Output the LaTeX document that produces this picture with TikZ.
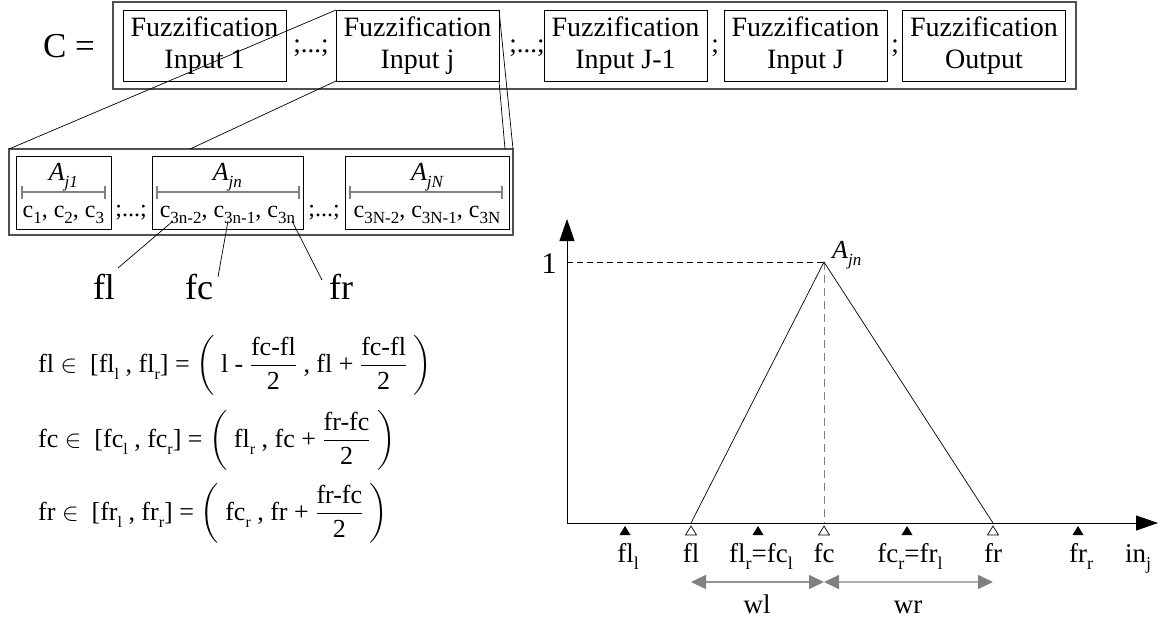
\documentclass[tikz,border=0pt]{standalone}
\usepackage{amsmath}
\usepackage{fontspec}
\setmainfont{Liberation Serif}
\usetikzlibrary{arrows.meta}
\newcommand\sbs[2][17]{\raisebox{-0.28em}{\fontsize{#1}{#1}\selectfont #2}}
\definecolor{midgray}{RGB}{128,128,128}
\definecolor{lightgray2}{RGB}{175,175,175}
\definecolor{boxgray}{RGB}{80,80,80}
\tikzset{
  topbox/.style={draw, line width=0.7pt, minimum width=163, minimum height=71, align=center, inner sep=0, outer sep=0,
    font=\fontsize{28}{32}\selectfont},
  outerbox/.style={draw=boxgray, line width=1.3pt, inner sep=0, outer sep=0},
  abox/.style={draw, line width=0.7pt, minimum height=73, inner sep=0, outer sep=0},
  sep/.style={font=\fontsize{27}{31}\selectfont, inner sep=0},
  csep/.style={font=\fontsize{24}{28}\selectfont, inner sep=0},
  alabel/.style={font=\fontsize{26}{28}\selectfont\itshape, inner sep=0, anchor=base},
  ctext/.style={font=\fontsize{24}{28}\selectfont, inner sep=0, anchor=base},
  bar/.style={midgray, line width=2pt, {Bar[width=13]}-{Bar[width=13]}},
  thin/.style={line width=0.7pt},
  big/.style={font=\fontsize{36}{40}\selectfont, inner sep=0, anchor=base},
  formula/.style={font=\fontsize{26}{30}\selectfont, inner sep=0, anchor=base west},
  axlabel/.style={font=\fontsize{27}{30}\selectfont, inner sep=0, anchor=base},
  axis/.style={line width=0.9pt, -{Triangle[length=22,width=15]}},
  openmk/.style={draw=black, fill=white, line width=0.7pt},
  warrow/.style={line width=1.5pt, {Triangle[length=15,width=14,color=midgray]}-{Triangle[length=15,width=14,color=midgray]}}
}
\begin{document}
\begin{tikzpicture}[x=1pt,y=-1pt]
\useasboundingbox (0,0) rectangle (1165,625);
% ---------- top row ----------
\node[font=\fontsize{35}{38}\selectfont, inner sep=0] (C) at (69,46) {C =};
\node[outerbox, minimum width=963, minimum height=87] (outer) at (594.5,45.5) {};
\node[topbox] (b1) at (204.5,45.5) {Fuzzification\\Input 1};
\node[topbox] (b2) at (417.5,45.5) {Fuzzification\\Input j};
\node[topbox] (b3) at (625.5,45.5) {Fuzzification\\Input J-1};
\node[topbox] (b4) at (805.5,45.5) {Fuzzification\\Input J};
\node[topbox] (b5) at (984,45.5) {Fuzzification\\Output};
\node[sep] (s1) at (311,48) {;...;};
\node[sep] (s2) at (527,48) {;...;};
\node[sep] (s3) at (715,48) {;};
\node[sep] (s4) at (895,48) {;};
% ---------- second row ----------
\node[outerbox, minimum width=504, minimum height=86] (outer2) at (261,192) {};
\node[abox, minimum width=95] (a1) at (63.4,192.5) {};
\node[abox, minimum width=151] (an) at (227.4,192.5) {};
\node[abox, minimum width=164] (aN) at (427,192.5) {};
\coordinate (m1) at (190,149);
\coordinate (m2) at (505,149);
\draw[thin] (b2.north west) -- (outer2.north west);
\draw[thin] (b2.south west) -- (m1);
\draw[thin] (b2.north east) -- (outer2.north east);
\draw[thin] (b2.south east) -- (m2);
% labels inside
\node[alabel] (la1) at (63.4,180) {A\sbs[17]{j1}};
\node[alabel] (lan) at (227.4,180) {A\sbs[17]{jn}};
\node[alabel] (laN) at (427,180) {A\sbs[17]{jN}};
\coordinate (r1a) at (20.5,192); \coordinate (r1b) at (106,192);
\coordinate (rna) at (156,192); \coordinate (rnb) at (300,192);
\coordinate (rNa) at (349,192); \coordinate (rNb) at (503,192);
\draw[bar] (r1a) -- (r1b);
\draw[bar] (rna) -- (rnb);
\draw[bar] (rNa) -- (rNb);
\node[ctext] (c1) at (63.4,217) {c\sbs{1}, c\sbs{2}, c\sbs{3}};
\node[ctext] (cn) at (227.4,217) {c\sbs{3n-2}, c\sbs{3n-1}, c\sbs{3n}};
\node[ctext] (cN) at (427,217) {c\sbs{3N-2}, c\sbs{3N-1}, c\sbs{3N}};
\node[csep] (t1) at (131,213) {;...;};
\node[csep] (t2) at (324,213) {;...;};
% fl fc fr
\node[big] (fl) at (104,299) {fl};
\node[big] (fc) at (199,299) {fc};
\node[big] (fr) at (341,299) {fr};
\coordinate (p1) at (173,221); \coordinate (q1) at (118,268);
\coordinate (p2) at (228,221); \coordinate (q2) at (218,277);
\coordinate (p3) at (292,221); \coordinate (q3) at (322,280);
\draw[thin] (p1) -- (q1);
\draw[thin] (p2) -- (q2);
\draw[thin] (p3) -- (q3);
% formulas
\node[formula] (f1) at (38,372) {fl $\in$~ [fl\sbs[16]{l} , fl\sbs[16]{r}] = $\left(\ \text{l - }\dfrac{\text{fc-fl}}{\text{2}}\text{ , fl + }\dfrac{\text{fc-fl}}{\text{2}}\ \right)$};
\node[formula] (f2) at (38,447) {fc $\in$~ [fc\sbs[16]{l} , fc\sbs[16]{r}] = $\left(\ \text{fl\sbs[16]{r} , fc + }\dfrac{\text{fr-fc}}{\text{2}}\ \right)$};
\node[formula] (f3) at (38,520) {fr $\in$~ [fr\sbs[16]{l} , fr\sbs[16]{r}] = $\left(\ \text{fc\sbs[16]{r} , fr + }\dfrac{\text{fr-fc}}{\text{2}}\ \right)$};
% ---------- plot ----------
\coordinate (O) at (567,523);
\coordinate (ytip) at (567,219);
\coordinate (xtip) at (1158,523);
\coordinate (one) at (567,262);
\coordinate (peak) at (824,262);
\coordinate (pl) at (691,523);
\coordinate (pr) at (993,523);
\coordinate (pc) at (824,523);
\draw[axis] (O) -- (ytip);
\draw[axis] (O) -- (xtip);
\draw[line width=0.8pt, dash pattern=on 6pt off 4pt] (one) -- (peak);
\draw[midgray, line width=0.9pt, dash pattern=on 8pt off 5pt] (peak) -- (pc);
\draw[line width=0.7pt] (pl) -- (peak) -- (pr);
\node[font=\fontsize{30}{32}\selectfont, inner sep=0] (l1) at (549,264) {1};
\node[font=\fontsize{26}{28}\selectfont\itshape, inner sep=0, anchor=base west] (lA) at (832,258) {A\sbs[17]{jn}};
% markers
\foreach \x in {625,758,907,1078} \fill (\x,526) -- ++(-5.5,9) -- ++(11,0) -- cycle;
\foreach \x in {691,824,993} \draw[openmk] (\x,526) -- ++(-5.5,9) -- ++(11,0) -- cycle;
% axis labels
\node[axlabel] (xfll) at (628,562) {fl\sbs[18]{l}};
\node[axlabel] (xfl) at (691,562) {fl};
\node[axlabel] (xflr) at (761,562) {fl\sbs[18]{r}=fc\sbs[18]{l}};
\node[axlabel] (xfc) at (824,562) {fc};
\node[axlabel] (xfcr) at (910,562) {fc\sbs[18]{r}=fr\sbs[18]{l}};
\node[axlabel] (xfr) at (993,562) {fr};
\node[axlabel] (xfrr) at (1081,562) {fr\sbs[18]{r}};
\node[axlabel] (xin) at (1138,562) {in\sbs[18]{j}};
% widths
\coordinate (wa) at (691,582); \coordinate (wb) at (824,582); \coordinate (wc) at (993,582);
\draw[warrow, color=midgray!85] (wa) -- (wb);
\draw[warrow, color=lightgray2] (wb) -- (wc);
\node[axlabel] (lwl) at (757,613) {wl};
\node[axlabel] (lwr) at (908,613) {wr};
\end{tikzpicture}
\end{document}
